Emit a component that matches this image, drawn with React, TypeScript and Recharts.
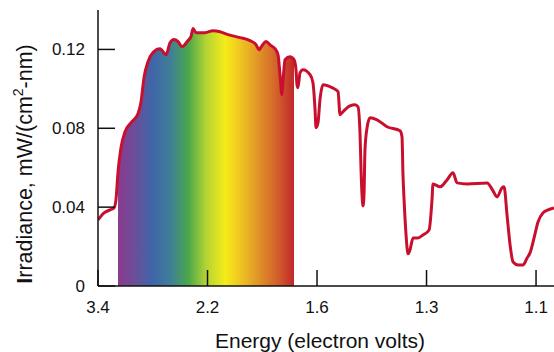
import { ComposedChart, Area, Line, XAxis, YAxis, Label } from "recharts"

// x positions are in tick-interval units along the energy axis (0 = 3.4 eV ... 4 = 1.1 eV)
const ENERGY_TICKS = [0, 1, 2, 3, 4]
const ENERGY_LABELS = ["3.4", "2.2", "1.6", "1.3", "1.1"]
const IRRADIANCE_TICKS = [0, 0.04, 0.08, 0.12]

const POSITION = [
  0.0, 0.055, 0.11, 0.146, 0.164, 0.183, 0.21, 0.247, 0.301, 0.365, 0.393, 0.42, 0.457, 0.502,
  0.566, 0.621, 0.658, 0.694, 0.731, 0.767, 0.822, 0.849, 0.868, 0.895, 0.977, 1.05, 1.114,
  1.187, 1.297, 1.388, 1.443, 1.47, 1.498, 1.534, 1.58, 1.616, 1.644, 1.662, 1.68, 1.689, 1.708,
  1.753, 1.79, 1.808, 1.817, 1.826, 1.845, 1.872, 1.936, 1.963, 1.982, 1.991, 2.009, 2.027,
  2.055, 2.137, 2.192, 2.21, 2.237, 2.301, 2.347, 2.374, 2.393, 2.402, 2.411, 2.42, 2.429,
  2.438, 2.457, 2.484, 2.548, 2.639, 2.758, 2.776, 2.785, 2.795, 2.813, 2.831, 2.849, 2.877,
  2.922, 2.968, 3.023, 3.05, 3.059, 3.123, 3.187, 3.242, 3.279, 3.37, 3.553, 3.607, 3.644,
  3.689, 3.708, 3.735, 3.763, 3.79, 3.836, 3.881, 3.918, 3.945, 3.982, 4.018, 4.064, 4.11, 4.164,
]

const IRRADIANCE = [
  0.0335, 0.0371, 0.0386, 0.0396, 0.0437, 0.0579, 0.0701, 0.0782, 0.0828, 0.0874, 0.0935,
  0.1057, 0.1138, 0.1184, 0.1204, 0.1173, 0.1234, 0.125, 0.124, 0.1214, 0.1245, 0.1265, 0.1306,
  0.1285, 0.1285, 0.1295, 0.129, 0.1275, 0.126, 0.1245, 0.1224, 0.1199, 0.1219, 0.124, 0.1219,
  0.1204, 0.1173, 0.1072, 0.097, 0.1036, 0.1148, 0.1163, 0.1148, 0.1097, 0.1021, 0.1006,
  0.1082, 0.1097, 0.1072, 0.1031, 0.0894, 0.0803, 0.0828, 0.0945, 0.1021, 0.1006, 0.0986,
  0.0869, 0.0884, 0.0914, 0.0919, 0.0909, 0.0767, 0.0589, 0.0462, 0.0406, 0.0462, 0.0691,
  0.0803, 0.0853, 0.0843, 0.0808, 0.0787, 0.0757, 0.0564, 0.0437, 0.0259, 0.0163, 0.0183,
  0.0244, 0.0244, 0.0259, 0.0284, 0.0437, 0.0518, 0.0503, 0.0538, 0.0574, 0.0523, 0.0518,
  0.0523, 0.0483, 0.0452, 0.0498, 0.0503, 0.0361, 0.0208, 0.0122, 0.0107, 0.0107, 0.0142,
  0.0168, 0.0244, 0.0325, 0.0371, 0.0386, 0.0396,
]

// visible band (rainbow fill) limits, same units as POSITION
const VISIBLE_FROM = 0.183
const VISIBLE_TO = 1.79

const data = POSITION.map((pos, i) => ({
  pos,
  irr: IRRADIANCE[i],
  visible: pos >= VISIBLE_FROM && pos <= VISIBLE_TO ? IRRADIANCE[i] : null,
}))

const FONT = '"Liberation Sans", Arial, Helvetica, sans-serif'
const INK = "#111"
const RED = "#c8102e"

function YTitle({ viewBox }: any) {
  const cx = viewBox.x + 32
  const cy = viewBox.y + viewBox.height / 2 + 16
  return (
    <text
      x={cx}
      y={cy}
      transform={`rotate(-90 ${cx} ${cy})`}
      textAnchor="middle"
      fontFamily={FONT}
      fontSize={21.5}
      fill={INK}
    >
      <tspan fontWeight={700}>I</tspan>rradiance, mW/(cm
      <tspan dy={-9} fontSize={14}>2</tspan>
      <tspan dy={9}>-nm)</tspan>
    </text>
  )
}

function XTitle({ viewBox }: any) {
  return (
    <text
      x={viewBox.x + viewBox.width / 2 - 6}
      y={viewBox.y + 62}
      textAnchor="middle"
      fontFamily={FONT}
      fontSize={21}
      fill={INK}
    >
      Energy (electron volts)
    </text>
  )
}

export default function App() {
  return (
    <div style={{ position: "absolute", left: 0, top: 0, background: "#fff" }}>
      <ComposedChart
        width={554}
        height={352}
        data={data}
        margin={{ top: 10, right: 0, bottom: 0, left: 0 }}
      >
        <defs>
          <linearGradient id="rainbow" x1="0" y1="0" x2="1" y2="0">
            <stop offset="0%" stopColor="#8a3a8e" />
            <stop offset="10%" stopColor="#6a4f9a" />
            <stop offset="20%" stopColor="#3e66a8" />
            <stop offset="30%" stopColor="#3f7f98" />
            <stop offset="40%" stopColor="#4aa84a" />
            <stop offset="50%" stopColor="#b4d334" />
            <stop offset="61%" stopColor="#f6ec1a" />
            <stop offset="70%" stopColor="#efc223" />
            <stop offset="80%" stopColor="#e09327" />
            <stop offset="90%" stopColor="#d3622a" />
            <stop offset="100%" stopColor="#c0282a" />
          </linearGradient>
        </defs>
        <XAxis
          dataKey="pos"
          type="number"
          domain={[0, 4.164]}
          ticks={ENERGY_TICKS}
          tickFormatter={(v) => ENERGY_LABELS[v]}
          height={66}
          tickSize={-16}
          tickMargin={31}
          axisLine={{ stroke: INK, strokeWidth: 1.5 }}
          tickLine={{ stroke: INK, strokeWidth: 1.5 }}
          tick={{ fill: INK, fontSize: 17, fontFamily: FONT }}
          allowDataOverflow
        >
          <Label content={XTitle} />
        </XAxis>
        <YAxis
          type="number"
          domain={[0, 0.14]}
          ticks={IRRADIANCE_TICKS}
          tickFormatter={(v) => (v === 0 ? "0" : v.toFixed(2))}
          width={98}
          tickSize={-17}
          tickMargin={30}
          axisLine={{ stroke: INK, strokeWidth: 1.5 }}
          tickLine={{ stroke: INK, strokeWidth: 1.5 }}
          tick={{ fill: INK, fontSize: 17, fontFamily: FONT }}
          allowDataOverflow
        >
          <Label content={YTitle} />
        </YAxis>
        <Area
          type="monotone"
          dataKey="visible"
          stroke="none"
          fill="url(#rainbow)"
          fillOpacity={1}
          isAnimationActive={false}
          dot={false}
          activeDot={false}
        />
        <Line
          type="monotone"
          dataKey="irr"
          stroke={RED}
          strokeWidth={3}
          dot={false}
          activeDot={false}
          isAnimationActive={false}
        />
      </ComposedChart>
    </div>
  )
}
